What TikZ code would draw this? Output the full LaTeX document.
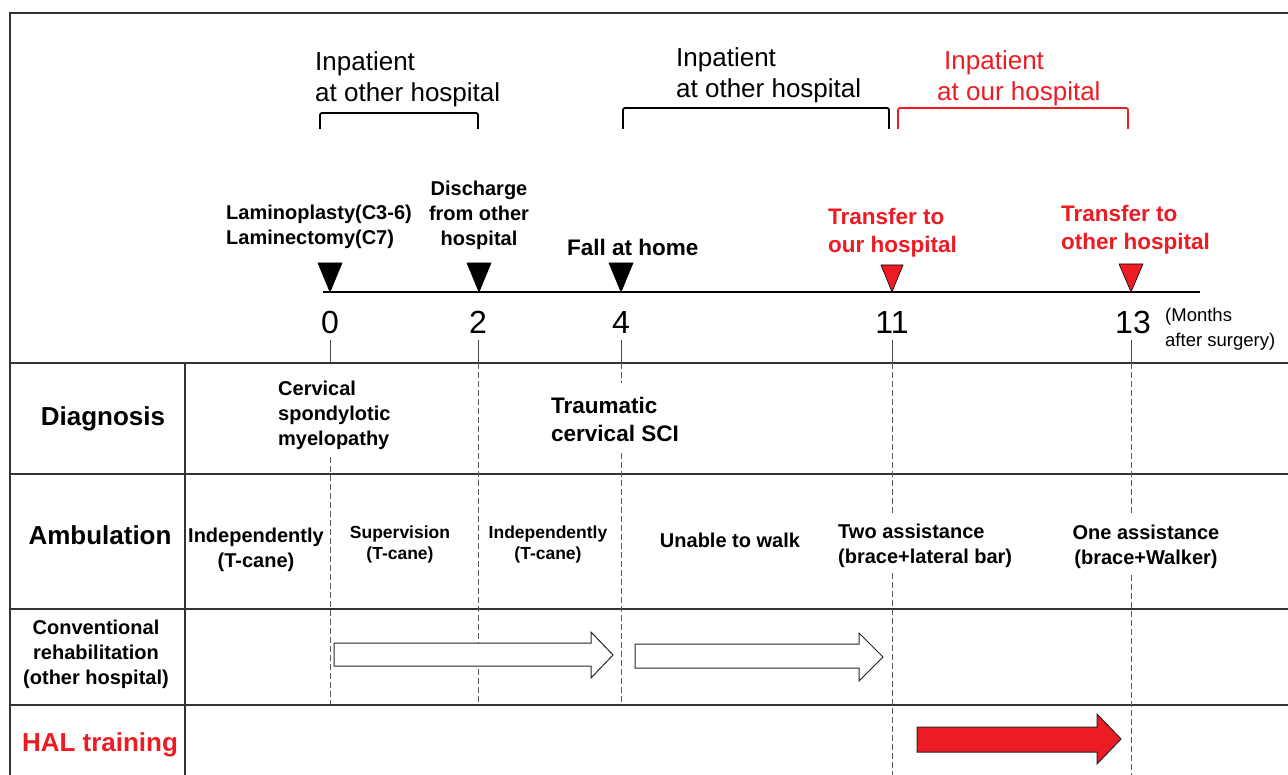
\documentclass[tikz,border=0pt]{standalone}
\usepackage{fontspec}
\setmainfont{Liberation Sans}
\definecolor{hred}{HTML}{ED1C24}
\definecolor{frame}{HTML}{333333}
\begin{document}
\begin{tikzpicture}[x=1pt,y=-1pt,
  rule/.style={draw=frame,line width=1.2pt},
  guide/.style={draw=black!65,line width=0.8pt,dash pattern=on 6pt off 3pt},
  tri/.style={fill=black,draw=black,line width=0.6pt},
  rtri/.style={fill=hred,draw=black,line width=0.6pt},
  brk/.style={line width=1.8pt,rounded corners=2pt},
  num/.style={font=\fontsize{32}{32}\selectfont,inner sep=0,anchor=base},
  evt/.style={font=\bfseries\fontsize{20}{25}\selectfont,inner sep=0},
  bigevt/.style={font=\bfseries\fontsize{22.5}{28}\selectfont,inner sep=0},
  stay/.style={font=\fontsize{26}{31}\selectfont,inner sep=0,align=left,anchor=west},
  rowlbl/.style={font=\bfseries\fontsize{26}{31}\selectfont,inner sep=0},
  cell/.style={font=\bfseries\fontsize{20}{25}\selectfont,inner sep=0},
  smallcell/.style={font=\bfseries\fontsize{17.5}{21}\selectfont,inner sep=0,align=center},
  blockarrow/.style={draw=black!85,line width=1pt,fill=white}
]
\useasboundingbox (0,0) rectangle (1288,775);
\fill[white] (0,0) rectangle (1288,775);

% frame and table rules
\draw[rule] (10,775) -- (10,13) -- (1288,13);
\draw[rule] (10,363) -- (1288,363);
\draw[rule] (10,474) -- (1288,474);
\draw[rule] (10,609) -- (1288,609);
\draw[rule] (10,705) -- (1288,705);
\draw[rule] (185,363) -- (185,775);

% timeline
\coordinate (k0) at (330,292);
\coordinate (k2) at (479,292);
\coordinate (k4) at (621,292);
\coordinate (k11) at (892,292);
\coordinate (k13) at (1131,292);
\draw[line width=1.5pt] (323,292) -- (1200,292);

% triangles
\filldraw[tri] (318,263) -- (342,263) -- (k0) -- cycle;
\filldraw[tri] (467,263) -- (491,263) -- (k2) -- cycle;
\filldraw[tri] (609,263) -- (633,263) -- (k4) -- cycle;
\filldraw[rtri] (881,265) -- (903,265) -- (k11) -- cycle;
\filldraw[rtri] (1119,264) -- (1143,264) -- (k13) -- cycle;

% numbers
\node[num] (n0) at (330,334) {0};
\node[num] (n2) at (478,334) {2};
\node[num] (n4) at (621,334) {4};
\node[num] (n11) at (892,334) {11};
\node[num] (n13) at (1133,334) {13};
\node[font=\fontsize{18.5}{25}\selectfont,inner sep=0,align=left,anchor=west] (unit) at (1165,329) {(Months\\after surgery)};

% tick lines
\foreach \x in {330,478,621,892,1131} \draw[line width=0.8pt,black!70] (\x,340) -- (\x,363);

% guide lines
\draw[guide] (330,457) -- (330,705);
\draw[guide] (478,363) -- (478,705);
\draw[guide] (621,363) -- (621,383);
\draw[guide] (621,453) -- (621,705);
\draw[guide] (892,363) -- (892,513);
\draw[guide] (892,573) -- (892,775);
\draw[guide] (1131,363) -- (1131,514);
\draw[guide] (1131,575) -- (1131,775);

% stays
\draw[brk] (320,129) -- (320,113) -- (478,113) -- (478,129);
\draw[brk] (623,129) -- (623,108) -- (889,108) -- (889,129);
\draw[brk,hred] (898,129) -- (898,108) -- (1128,108) -- (1128,129);
\node[stay] (s1) at (315,79) {Inpatient\\at other hospital};
\node[stay] (s2) at (676,75) {Inpatient\\at other hospital};
\node[stay,text=hred] (s3) at (937,78) {\hspace{7pt}Inpatient\\at our hospital};

% events
\node[evt,align=left,anchor=west] (e0) at (226,227) {Laminoplasty(C3-6)\\Laminectomy(C7)};
\node[evt,align=center] (e2) at (479,215) {Discharge\\from other\\hospital};
\node[bigevt,anchor=west] (e4) at (567,247) {Fall at home};
\node[bigevt,align=left,anchor=west,text=hred] (e11) at (828,233) {Transfer to\\our hospital};
\node[bigevt,align=left,anchor=west,text=hred] (e13) at (1061,230) {Transfer to\\other hospital};

% row labels
\node[rowlbl] (rD) at (103,419) {Diagnosis};
\node[rowlbl] (rA) at (100,535) {Ambulation};
\node[evt,align=center] (rC) at (96,654) {Conventional\\rehabilitation\\(other hospital)};
\node[rowlbl,text=hred] (rH) at (100,745) {HAL training};

% diagnosis
\node[evt,align=left,anchor=west] (d1) at (278,415) {Cervical\\spondylotic\\myelopathy};
\node[bigevt,align=left,anchor=west] (d2) at (551,419) {Traumatic\\cervical SCI};

% ambulation
\node[cell,align=center] (a1) at (256,550) {Independently\\(T-cane)};
\node[smallcell] (a2) at (400,544) {Supervision\\(T-cane)};
\node[smallcell] (a3) at (548,544) {Independently\\(T-cane)};
\node[cell] (a4) at (730,540) {Unable to walk};
\node[cell,align=left,anchor=west] (a5) at (838,546) {Two assistance\\(brace+lateral bar)};
\node[cell,align=center] (a6) at (1146,547) {One assistance\\(brace+Walker)};

% rehabilitation arrows
\draw[blockarrow] (334,643) -- (591,643) -- (591,632) -- (613,655) -- (591,678) -- (591,666) -- (334,666) -- cycle;
\draw[blockarrow] (635,644) -- (859,644) -- (859,633) -- (883,657) -- (859,681) -- (859,668) -- (635,668) -- cycle;
\draw[blockarrow,fill=hred] (917,727) -- (1097,727) -- (1097,714) -- (1121,739) -- (1097,764) -- (1097,752) -- (917,752) -- cycle;
\end{tikzpicture}
\end{document}
